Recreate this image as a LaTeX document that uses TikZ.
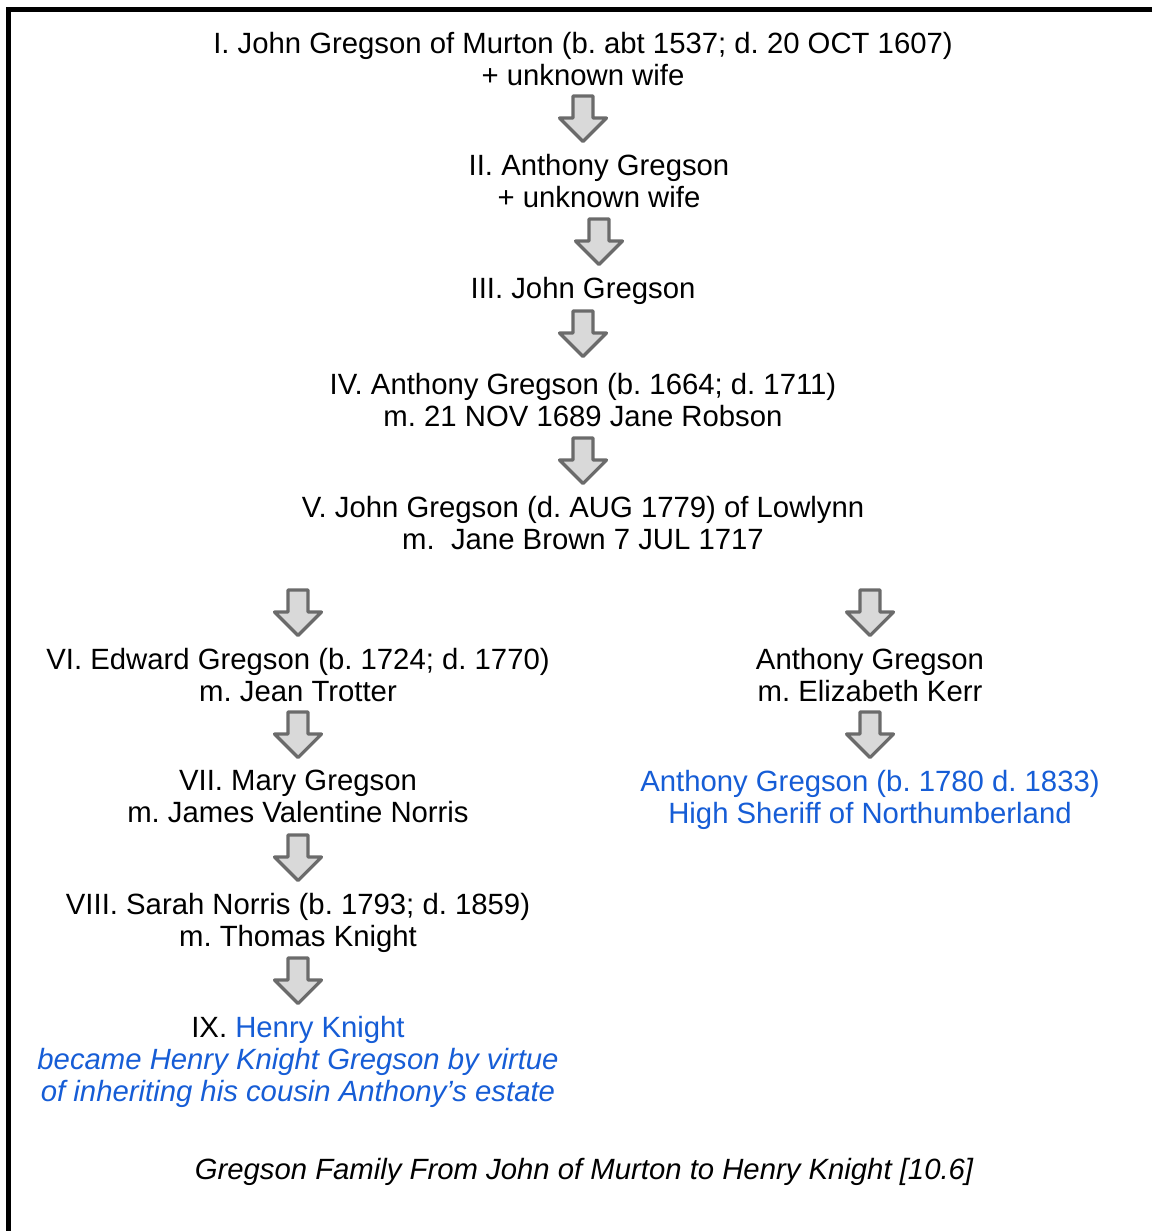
\documentclass[tikz,border=0pt]{standalone}
\usepackage{fontspec}
\setmainfont{Liberation Sans}
\usetikzlibrary{calc}
\definecolor{gblue}{RGB}{22,93,214}
\frenchspacing

\begin{document}
\begin{tikzpicture}[x=1pt, y=-1pt,
        every node/.style={align=center, inner sep=0pt, anchor=north,
            font=\fontsize{29.3}{32}\selectfont},
        blue/.style={text=gblue},
        pics/genarrow/.style={code={
            \draw[line width=3.2pt, line join=round, draw=black!58, fill=black!15]
                (-10,-23) -- (10,-23) -- (10,-1) -- (23.5,-1) -- (0,22.5)
                -- (-23.5,-1) -- (-10,-1) -- cycle;}}]
        \useasboundingbox (0,0) rectangle (1152,1231);
        % frame
        \draw[line width=5.5pt] (1152,9.5) -- (8.7,9.5) -- (8.7,1231);

        % main line
        \node (g1) at (583,32) {I. John Gregson of Murton (b. abt 1537; d. 20 OCT 1607)\\+ unknown wife};
        \node (g2) at (599,154) {II. Anthony Gregson\\+ unknown wife};
        \node (g3) at (583,277) {III. John Gregson};
        \node (g4) at (583,373) {IV. Anthony Gregson (b. 1664; d. 1711)\\m. 21 NOV 1689 Jane Robson};
        \node (g5) at (583,496) {V. John Gregson (d. AUG 1779) of Lowlynn\\m.\ \ Jane Brown 7 JUL 1717};
        \node (g6) at (298,648) {VI. Edward Gregson (b. 1724; d. 1770)\\m. Jean Trotter};
        \node (g7) at (298,770) {VII. Mary Gregson\\m. James Valentine Norris};
        \node (g8) at (298,893) {VIII. Sarah Norris (b. 1793; d. 1859)\\m. Thomas Knight};
        \node (g9) at (298,1016) {IX. \textcolor{gblue}{Henry Knight}\\
            \textcolor{gblue}{\itshape became Henry Knight Gregson by virtue}\\
            \textcolor{gblue}{\itshape of inheriting his cousin Anthony’s estate}};

        % other branch
        \node (a1) at (870,648) {Anthony Gregson\\m. Elizabeth Kerr};
        \node[blue] (a2) at (870,770) {Anthony Gregson (b. 1780 d. 1833)\\High Sheriff of Northumberland};

        \pic at ($(g2.north -| g1)+(0,-35)$) {genarrow};
        \pic at ($(g3.north -| g2)+(0,-35)$) {genarrow};
        \pic at ($(g4.north -| g3)+(0,-39)$) {genarrow};
        \pic at ($(g5.north -| g4)+(0,-35)$) {genarrow};
        \pic at ($(g6.north)+(0,-35)$) {genarrow};
        \pic at ($(a1.north)+(0,-35)$) {genarrow};
        \pic at ($(g7.north -| g6)+(0,-35)$) {genarrow};
        \pic at ($(a2.north -| a1)+(0,-35)$) {genarrow};
        \pic at ($(g8.north -| g7)+(0,-35)$) {genarrow};
        \pic at ($(g9.north -| g8)+(0,-35)$) {genarrow};

        \node[font=\fontsize{29.3}{32}\selectfont\itshape] (cap) at (584,1158)
            {Gregson Family From John of Murton to Henry Knight [10.6]};
    \end{tikzpicture}
\end{document}
